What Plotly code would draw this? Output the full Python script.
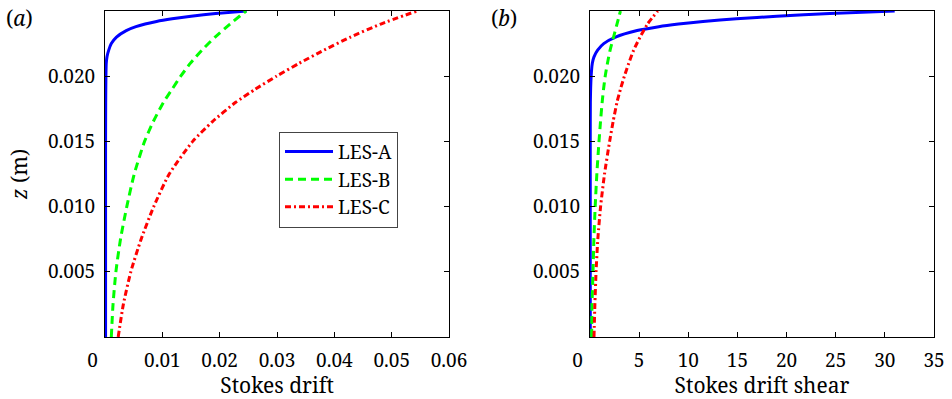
import plotly.graph_objects as go

# ---------------- data ----------------
z_A = [0, 0.005, 0.010, 0.015, 0.018, 0.020, 0.021, 0.0215, 0.022, 0.0225,
       0.023, 0.0235, 0.0238, 0.024, 0.0242, 0.0244, 0.0246, 0.0248, 0.025]
drift_A = [0.0001, 0.0001, 0.0001, 0.0001, 0.00012, 0.00016, 0.00022, 0.00035,
           0.00065, 0.0011, 0.0020, 0.0037, 0.0054, 0.0070, 0.0090, 0.0117,
           0.0150, 0.0193, 0.0247]
shear_A = [0.03, 0.03, 0.03, 0.03, 0.04, 0.12, 0.24, 0.42, 0.78, 1.4, 2.6,
           4.8, 7.0, 9.0, 11.5, 14.9, 19.0, 24.4, 31.0]

z_BC = [0, 0.0025, 0.005, 0.0075, 0.010, 0.0125, 0.015, 0.0165, 0.018, 0.019,
        0.020, 0.021, 0.022, 0.023, 0.024, 0.025]
drift_B = [0.0011, 0.0014, 0.0019, 0.0027, 0.0038, 0.0051, 0.0069, 0.0084,
           0.0102, 0.0117, 0.0132, 0.0149, 0.0169, 0.0192, 0.0218, 0.0246]
shear_B = [0.17, 0.21, 0.31, 0.40, 0.53, 0.70, 0.92, 1.07, 1.24, 1.38, 1.55,
           1.78, 2.05, 2.40, 2.75, 3.1]
drift_C = [0.0023, 0.0032, 0.0045, 0.0063, 0.0085, 0.0112, 0.0153, 0.0187,
           0.0228, 0.0262, 0.0299, 0.0339, 0.0382, 0.0428, 0.0481, 0.0544]
shear_C = [0.41, 0.50, 0.62, 0.80, 1.08, 1.48, 2.0, 2.35, 2.75, 3.1, 3.5,
           3.95, 4.45, 5.1, 5.85, 6.9]

series_names = ["LES-A", "LES-B", "LES-C"]

x1_ticks = [0, 0.01, 0.02, 0.03, 0.04, 0.05, 0.06]
x1_labels = ["0&nbsp;&nbsp;&nbsp;&nbsp;&nbsp;", "0.01", "0.02", "0.03", "0.04", "0.05", "0.06"]
x2_ticks = [0, 5, 10, 15, 20, 25, 30, 35]
x2_labels = ["0&nbsp;&nbsp;&nbsp;&nbsp;&nbsp;", "5", "10", "15", "20", "25", "30", "35"]
y_ticks = [0.005, 0.010, 0.015, 0.020, 0.025]
y_labels = ["0.005", "0.010", "0.015", "0.020", "0.025"]

# ---------------- figure ----------------
FONT = "Noto Serif"
TICK = 19
TITLE = 21
styles = [
    dict(color="#0000FF", dash="solid"),
    dict(color="#00FF00", dash="8px,5px"),
    dict(color="#FF0000", dash="6px,3px,2px,3px"),
]
zs = [z_A, z_BC, z_BC]
drifts = [drift_A, drift_B, drift_C]
shears = [shear_A, shear_B, shear_C]

fig = go.Figure()
for i in range(3):
    ln = dict(color=styles[i]["color"], dash=styles[i]["dash"], width=3,
              shape="spline", smoothing=0.6)
    fig.add_trace(go.Scatter(x=drifts[i], y=zs[i], mode="lines", name=series_names[i],
                             line=ln, xaxis="x", yaxis="y", legendgroup=series_names[i]))
for i in range(3):
    ln = dict(color=styles[i]["color"], dash=styles[i]["dash"], width=3,
              shape="spline", smoothing=0.6)
    fig.add_trace(go.Scatter(x=shears[i], y=zs[i], mode="lines", name=series_names[i],
                             line=ln, xaxis="x2", yaxis="y2", showlegend=False,
                             legendgroup=series_names[i]))

axis_common = dict(showline=True, linecolor="black", linewidth=1, mirror="ticks",
                   ticks="inside", ticklen=5, tickcolor="black", tickwidth=1,
                   showgrid=False, zeroline=False, automargin=False,
                   tickfont=dict(family=FONT, size=TICK, color="black"))

fig.update_layout(
    width=952, height=399,
    margin=dict(l=105, r=18, t=11, b=62),
    paper_bgcolor="white", plot_bgcolor="white",
    font=dict(family=FONT, size=TICK, color="black"),
    xaxis=dict(domain=[0, 0.415], range=[0, 0.06], tickmode="array",
               tickvals=x1_ticks, ticktext=x1_labels, anchor="y",
               ticklabelstandoff=6,
               title=dict(text="Stokes drift", font=dict(family=FONT, size=TITLE), standoff=6),
               **axis_common),
    yaxis=dict(domain=[0, 1], range=[0, 0.025], tickmode="array",
               tickvals=y_ticks, ticktext=y_labels, anchor="x",
               ticklabelstandoff=5,
               title=dict(text="<i>z</i> (m)", font=dict(family=FONT, size=TITLE), standoff=14),
               **axis_common),
    xaxis2=dict(domain=[0.585, 1], range=[0, 35], tickmode="array",
                tickvals=x2_ticks, ticktext=x2_labels, anchor="y2",
                ticklabelstandoff=6,
                title=dict(text="Stokes drift shear", font=dict(family=FONT, size=TITLE), standoff=6),
                **axis_common),
    yaxis2=dict(domain=[0, 1], range=[0, 0.025], tickmode="array",
                tickvals=y_ticks, ticktext=y_labels, anchor="x2",
                ticklabelstandoff=5, **axis_common),
    legend=dict(x=0.2099, y=0.63, xanchor="left", yanchor="top",
                bordercolor="#444444", borderwidth=1, bgcolor="white",
                font=dict(family=FONT, size=19, color="black"),
                tracegroupgap=0, itemwidth=48),
    showlegend=True,
    annotations=[
        dict(text="(<i>a</i>)", xref="paper", yref="paper", x=-0.103, y=0.98,
             xanchor="center", yanchor="middle", showarrow=False,
             font=dict(family=FONT, size=TITLE, color="black")),
        dict(text="(<i>b</i>)", xref="paper", yref="paper", x=0.4813, y=0.98,
             xanchor="center", yanchor="middle", showarrow=False,
             font=dict(family=FONT, size=TITLE, color="black")),
    ],
)

fig.write_html("out.html")
